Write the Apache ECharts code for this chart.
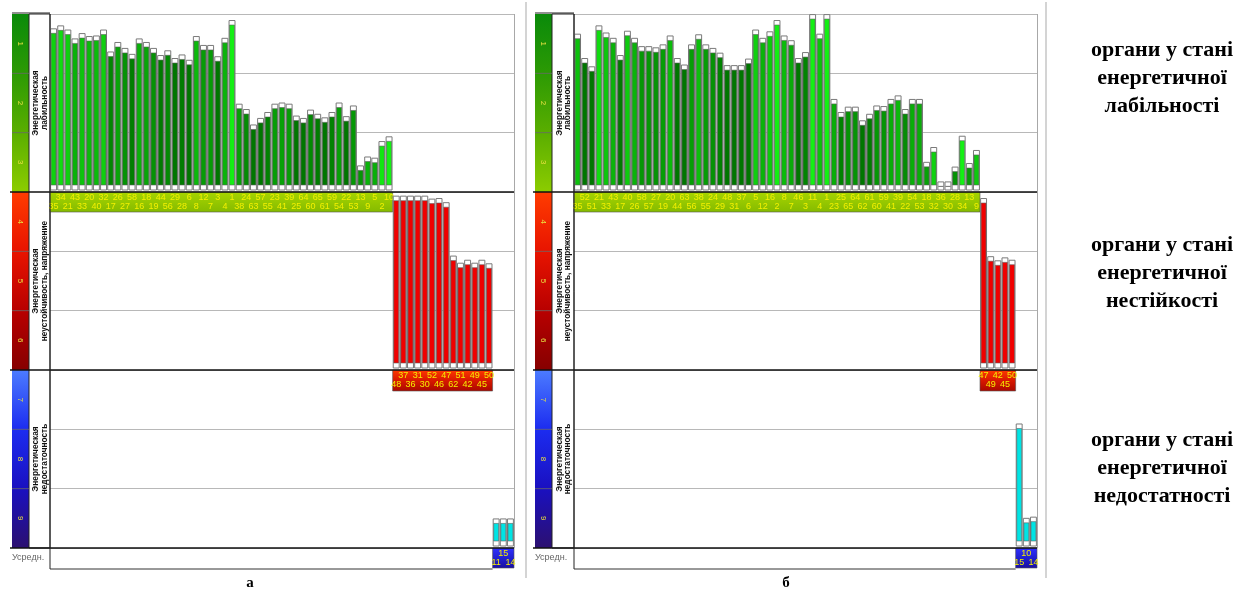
<!DOCTYPE html>
<html>
<head>
<meta charset="utf-8">
<script src="https://cdn.jsdelivr.net/npm/echarts@6.0.0/dist/echarts.min.js"></script>
<style>
html,body{margin:0;padding:0;background:#fff;}
#chart{width:1241px;height:590px;}
</style>
</head>
<body>
<div id="chart"></div>
<script>
// ---------- DATA (levels: 0 = top of scale, 9 = bottom; zones 0-3 / 3-6 / 6-9) ----------
const levelLabels = ['1','2','3','4','5','6','7','8','9'];
const zoneNames = ['Энергетическая\nлабильность', 'Энергетическая\nнеустойчивость, напряжение', 'Энергетическая\nнедостаточность'];
const sideTexts = [
  ['органи у стані', 'енергетичної', 'лабільності'],
  ['органи у стані', 'енергетичної', 'нестійкості'],
  ['органи у стані', 'енергетичної', 'недостатності']
];
const panelTitles = ['а', 'б'];
const avgLabel = 'Усредн.';

// panel "а"
const leftGreenIds  = [35,34,21,43,33,20,40,32,17,26,27,58,16,18,19,44,56,29,28,6,8,12,7,3,4,1,38,24,63,57,55,23,41,39,25,64,60,65,61,59,54,22,53,13,9,5,2,10];
const leftGreenVals = [0.25,0.20,0.27,0.42,0.33,0.38,0.37,0.27,0.64,0.48,0.58,0.68,0.42,0.48,0.58,0.70,0.62,0.75,0.69,0.78,0.38,0.53,0.53,0.72,0.41,0.11,
                       1.52,1.61,1.87,1.76,1.66,1.52,1.50,1.52,1.72,1.76,1.62,1.69,1.75,1.66,1.50,1.73,1.55,2.56,2.41,2.43,2.15,2.07];
const leftRedIds  = [48,37,36,31,30,52,46,47,62,51,42,49,45,50];
const leftRedVals = [3.07,3.07,3.07,3.07,3.07,3.12,3.11,3.18,4.08,4.20,4.15,4.20,4.15,4.21];
const leftBlueIds  = [11,15,14];
const leftBlueVals = [8.51,8.51,8.51];

// panel "б"
const rightGreenIds  = [35,52,51,21,33,43,17,40,26,58,57,27,19,20,44,63,56,38,55,24,29,48,31,37,6,5,12,16,2,8,7,46,3,11,4,1,23,25,65,64,62,61,60,59,41,39,22,54,53,18,32,36,30,28,34,13,9];
const rightGreenVals = [0.34,0.75,0.89,0.20,0.32,0.41,0.70,0.29,0.41,0.55,0.55,0.57,0.52,0.37,0.75,0.86,0.52,0.35,0.52,0.58,0.66,0.87,0.87,0.87,0.76,0.27,0.41,0.30,0.11,0.37,0.45,0.75,0.65,0.01,0.34,0.01,
                        1.44,1.66,1.57,1.57,1.80,1.69,1.55,1.56,1.44,1.38,1.61,1.44,1.44,2.50,2.25,2.83,2.83,2.58,2.06,2.52,2.30];
const rightRedIds  = [47,49,42,45,50];
const rightRedVals = [3.11,4.09,4.16,4.11,4.15];
const rightBlueIds  = [15,10,14];
const rightBlueVals = [6.91,8.50,8.48];

// ---------- LAYOUT ----------
const GT = 14, GH = 534, LV = GH / 9;
const yOf = L => GT + LV * L;
const panels = [
  {ox: 0,   gl: 50,  gw: 464, frame: 12, tx: 250, g: [leftGreenIds, leftGreenVals],  r: [leftRedIds, leftRedVals],  b: [leftBlueIds, leftBlueVals]},
  {ox: 523, gl: 574, gw: 463, frame: 9,  tx: 786, g: [rightGreenIds, rightGreenVals], r: [rightRedIds, rightRedVals], b: [rightBlueIds, rightBlueVals]}
];
const FONT = '"Liberation Sans", Arial, sans-serif';
const SERIF = '"Liberation Serif", "Times New Roman", serif';
const LG = (stops) => new echarts.graphic.LinearGradient(0, 0, 0, 1, stops.map((c, i) => ({offset: i / (stops.length - 1), color: c})));

function greenColor(v) {
  const f = v - Math.floor(v);
  const t = Math.max(0, Math.min(1, (0.72 - f) / 0.62));
  const g = Math.round(118 + 122 * t);
  const r = Math.round(20 * t);
  return 'rgb(' + r + ',' + g + ',' + r + ')';
}
const zoneBase = [3, 6, 9];

function renderBand(params, api) {
  const s = api.value(0), e = api.value(1), base = api.value(2), zone = api.value(3);
  const bw = api.size([1, 0])[0];
  const p0 = api.coord([s, base]), p1 = api.coord([e, base]);
  const x0 = p0[0] - bw / 2, x1 = p1[0] + bw / 2;
  const y0 = p0[1];
  const hts = [20, 21, 20];
  const fills = [
    LG(['#a6d400', '#96c800', '#84ba00']),
    LG(['#ff3a00', '#d81800', '#a80800']),
    LG(['#3030ff', '#2020d0', '#1a10a0'])
  ];
  const children = [{type: 'rect', shape: {x: x0, y: y0, width: x1 - x0, height: hts[zone]}, style: {fill: fills[zone], stroke: '#555', lineWidth: 0.6}}];
  if (zone === 2) {
    const left = api.coord([0, base])[0] - bw / 2;
    children.push({type: 'polyline', shape: {points: [[left, y0 + 21], [x0, y0 + 21]]}, style: {stroke: '#333', lineWidth: 1, fill: null}});
  }
  return {type: 'group', children};
}

function renderBar(params, api) {
  const i = api.value(0), top = api.value(1), base = api.value(2), zone = api.value(3);
  const id = api.value(4);
  const pT = api.coord([i, top]), pB = api.coord([i, base]);
  const bw = api.size([1, 0])[0];
  const w = bw - 1.2;
  const x0 = pT[0] - w / 2;
  const yT = pT[1], yB = pB[1] - 2;
  const cap = 4.5;
  const color = zone === 0 ? greenColor(top) : (zone === 1 ? '#f00000' : '#00e4e4');
  const lower = (i % 2 === 0);
  return {type: 'group', children: [
    {type: 'rect', shape: {x: x0, y: yT, width: w, height: yB - yT}, style: {fill: '#ffffff', stroke: '#7a7a7a', lineWidth: 1}},
    {type: 'rect', shape: {x: x0 + 0.5, y: yT + cap, width: w - 1, height: Math.max(0, yB - yT - 2 * cap - 0.5)}, style: {fill: color, stroke: '#606060', lineWidth: 0.6}},
    {type: 'text', x: pB[0], y: pB[1] + (lower ? 14.5 : 5.5), style: {text: String(id), align: 'center', verticalAlign: 'middle', font: '9px ' + FONT, fill: '#f4f000'}}
  ]};
}

const grids = [], xAxes = [], yAxes = [], series = [], graphic = [];
panels.forEach((P, k) => {
  const ids = [].concat(P.g[0], P.r[0], P.b[0]);
  grids.push({left: P.gl, top: GT, width: P.gw, height: GH});
  xAxes.push({type: 'category', gridIndex: k, data: ids.map(String), boundaryGap: true,
    axisLine: {show: false}, axisTick: {show: false}, axisLabel: {show: false}, splitLine: {show: false}});
  yAxes.push({type: 'value', gridIndex: k, inverse: true, min: 0, max: 9, interval: 1,
    axisLine: {show: false}, axisTick: {show: false}, axisLabel: {show: false},
    splitLine: {show: true, lineStyle: {color: '#b8b8b8', width: 1}}});
  const bars = [], bands = [];
  let idx = 0;
  [P.g, P.r, P.b].forEach((grp, z) => {
    const start = idx;
    grp[0].forEach((id, j) => { bars.push([idx, grp[1][j], zoneBase[z], z, id]); idx++; });
    bands.push([start, idx - 1, zoneBase[z], z]);
  });
  series.push({type: 'custom', xAxisIndex: k, yAxisIndex: k, renderItem: renderBand, data: bands, silent: true, z: 2});
  series.push({type: 'custom', xAxisIndex: k, yAxisIndex: k, renderItem: renderBar, data: bars, silent: true, z: 3,
    encode: {x: 0, y: 1}});

  // decorations
  const cx = 12 + P.ox, cw = 17, tx = cx + cw, tw = P.gl - tx, gr = P.gl + P.gw;
  const colFills = [
    ['#0a8a0a', '#2c9a04', '#5aae00', '#8ccc00'],
    ['#ff3c00', '#e81400', '#b80000', '#860000'],
    ['#4c7cff', '#1c2cf0', '#1a10c0', '#2c1070']
  ];
  for (let z = 0; z < 3; z++) {
    graphic.push({type: 'rect', shape: {x: cx, y: yOf(3 * z), width: cw, height: 3 * LV}, style: {fill: LG(colFills[z])}, z: 1});
  }
  for (let l = 1; l < 9; l++) {
    if (l % 3 !== 0) graphic.push({type: 'line', shape: {x1: cx, y1: yOf(l), x2: cx + cw, y2: yOf(l)}, style: {stroke: '#6a6a6a', lineWidth: 0.8}, z: 2});
  }
  levelLabels.forEach((t, l) => {
    graphic.push({type: 'text', x: cx + cw / 2, y: yOf(l + 0.5), rotation: -Math.PI / 2,
      style: {text: t, align: 'center', verticalAlign: 'middle', font: '8px ' + FONT, fill: '#e8e040'}, z: 3});
  });
  graphic.push({type: 'rect', shape: {x: tx, y: GT, width: tw, height: GH}, style: {fill: '#fff', stroke: '#222', lineWidth: 1}, z: 1});
  zoneNames.forEach((t, z) => {
    graphic.push({type: 'text', x: tx + tw / 2 + 0.5, y: yOf(3 * z + 1.5), rotation: Math.PI / 2,
      style: {text: t, align: 'center', verticalAlign: 'middle', font: 'bold 8.3px ' + FONT, lineHeight: 8.5, fill: '#111'}, z: 3});
  });
  // zone separators (black)
  [3, 6, 9].forEach(l => {
    graphic.push({type: 'line', shape: {x1: cx - 2, y1: yOf(l), x2: gr, y2: yOf(l)}, style: {stroke: '#111', lineWidth: 1.5}, z: 5});
  });
  // plot borders
  graphic.push({type: 'line', shape: {x1: P.gl, y1: GT, x2: P.gl, y2: GT + GH + 21}, style: {stroke: '#222', lineWidth: 1}, z: 5});
  graphic.push({type: 'line', shape: {x1: gr + 0.5, y1: GT, x2: gr + 0.5, y2: GT + GH}, style: {stroke: '#a8a8a8', lineWidth: 1}, z: 5});
  graphic.push({type: 'line', shape: {x1: cx, y1: GT - 1, x2: P.gl, y2: GT - 1}, style: {stroke: '#222', lineWidth: 1}, z: 5});
  // outer frame line of screenshot panel
  graphic.push({type: 'line', shape: {x1: gr + P.frame, y1: 2, x2: gr + P.frame, y2: 578}, style: {stroke: '#d4d4d4', lineWidth: 2}, z: 1});
  graphic.push({type: 'text', x: cx, y: GT + GH + 10, style: {text: avgLabel, align: 'left', verticalAlign: 'middle', font: '9px ' + FONT, fill: '#666'}, z: 3});
  graphic.push({type: 'text', x: P.tx, y: 583, style: {text: panelTitles[k], align: 'center', verticalAlign: 'middle', font: 'bold 15px ' + SERIF, fill: '#000'}, z: 3});
});

sideTexts.forEach((lines, z) => {
  lines.forEach((t, j) => {
    graphic.push({type: 'text', x: 1162, y: 50 + 195 * z + 28 * j,
      style: {text: t, align: 'center', verticalAlign: 'middle', font: 'bold 22px ' + SERIF, fill: '#000'}});
  });
});

const chart = echarts.init(document.getElementById('chart'), null, {renderer: 'canvas'});
chart.setOption({
  animation: false,
  backgroundColor: '#ffffff',
  grid: grids, xAxis: xAxes, yAxis: yAxes, series: series, graphic: graphic
});
</script>
</body>
</html>
